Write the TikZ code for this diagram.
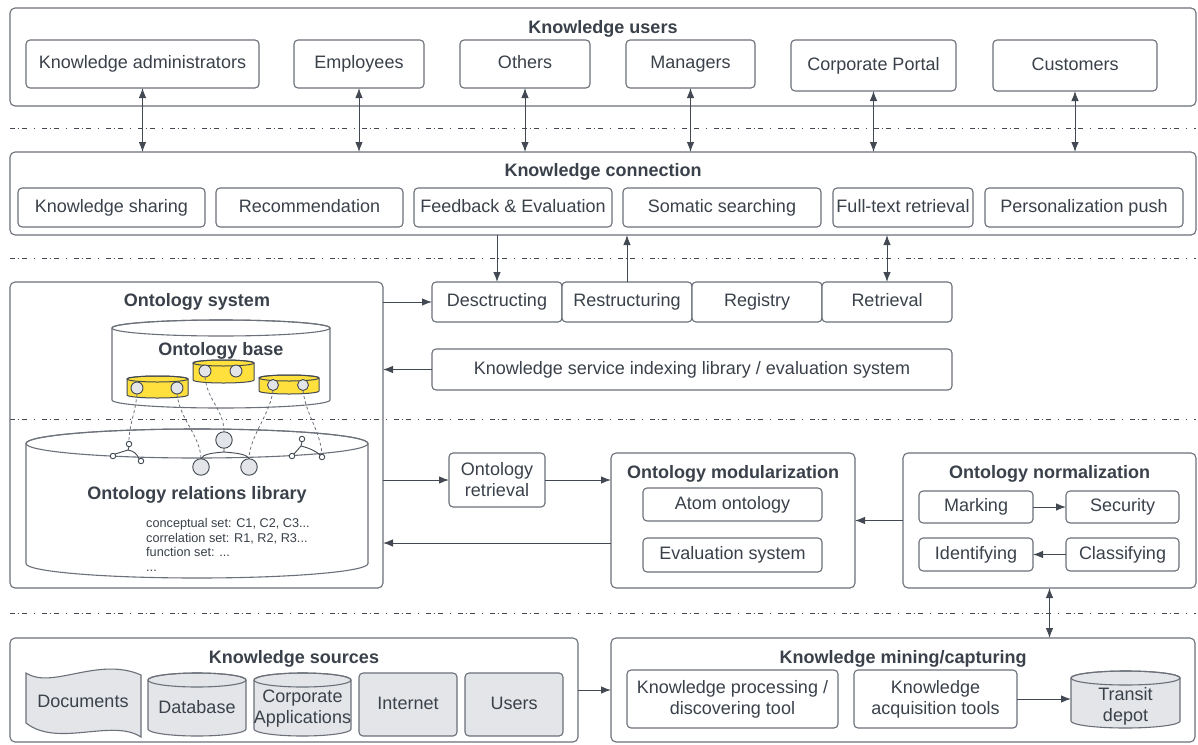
\documentclass[tikz,border=0pt]{standalone}
\usepackage{fontspec}
\setmainfont{Liberation Sans}
\usetikzlibrary{arrows.meta,calc}
\definecolor{txt}{HTML}{3A414A}
\definecolor{edge}{HTML}{6B7079}
\definecolor{ln}{HTML}{434952}
\definecolor{gfill}{HTML}{E3E5E8}
\definecolor{yel}{HTML}{FFE03D}
\newcommand\myN{\fontsize{18}{21}\selectfont}
\newcommand\myB{\fontsize{18}{21}\selectfont\bfseries}
\newcommand\myS{\fontsize{12.7}{15}\selectfont}
\tikzset{
  box/.style={draw=edge, fill=white, line width=1.1pt, rounded corners=4pt, inner sep=0pt, outer sep=0pt, text=txt, font=\myN, align=center, text height=12.6pt, text depth=3.6pt},
  multi/.style={text height=, text depth=},
  outer/.style={fill=none, rounded corners=5pt},
  gbox/.style={fill=gfill},
  ttl/.style={inner sep=0pt, text=txt, font=\myB, text height=12.6pt, text depth=3.6pt, yshift=-1.5pt},
  smalltxt/.style={inner sep=0pt, text=txt, font=\myS, anchor=base west},
  arr/.style={draw=ln, line width=1pt, -{Latex[length=10pt,width=7.5pt]}},
  dbl/.style={draw=ln, line width=1pt, {Latex[length=10pt,width=7.5pt]}-{Latex[length=10pt,width=7.5pt]}},
  sepl/.style={draw=ln, line width=0.9pt, dash pattern=on 5pt off 3pt on 1pt off 3pt on 5pt off 7pt on 1pt off 7pt},
  dsh/.style={draw=edge, line width=0.8pt, dash pattern=on 3pt off 2.5pt},
  gc/.style={circle, draw=ln, fill=gfill, line width=0.9pt, inner sep=0pt, outer sep=0pt},
  trl/.style={draw=ln, line width=0.9pt},
  cylw/.style={draw=edge, fill=white, line width=1.1pt},
  cylg/.style={draw=edge, fill=gfill, line width=1.1pt},
  cyly/.style={draw=ln, fill=yel, line width=1pt},
}
% box: [opts]{name}{x1}{y1}{x2}{y2}{text}
\newcommand\bx[7][]{\node[box,#1,minimum width={(#5)-(#3)},minimum height={(#6)-(#4)}] (#2) at ({((#3)+(#5))/2},{((#4)+(#6))/2}) {#7};}
% cylinder: {x1}{ytop}{x2}{ybot}{ry}{style}
\newcommand\mycyl[6]{%
  \pgfmathsetmacro\cxx{(#1+#3)/2}%
  \pgfmathsetmacro\rxx{(#3-#1)/2}%
  \filldraw[#6] (#1,#2+#5) -- (#1,#4-#5) arc[start angle=180,end angle=0,x radius=\rxx,y radius=#5] -- (#3,#2+#5) arc[start angle=0,end angle=-180,x radius=\rxx,y radius=#5] -- cycle;
  \draw[#6,fill=none] (\cxx,#2+#5) ellipse[x radius=\rxx, y radius=#5];
}
\begin{document}
\begin{tikzpicture}[x=1pt,y=-1pt]
\useasboundingbox (0,0) rectangle (1198,744);
\fill[white] (0,0) rectangle (1198,744);

% separators
\foreach \yy in {128,258,419,613} \draw[sepl] (10,\yy) -- (1196,\yy);

% ---------- Knowledge users
\bx[outer]{users}{10}{8}{1196}{106}{}
\node[ttl] (usersT) at (603,27) {Knowledge users};
\bx{ka}{26}{40}{259}{88}{Knowledge administrators}
\bx{emp}{294}{40}{424}{88}{Employees}
\bx{oth}{460}{40}{590}{88}{Others}
\bx{mgr}{626}{40}{755}{88}{Managers}
\bx{cp}{791}{40}{956}{91}{Corporate Portal}
\bx{cus}{993}{40}{1157}{91}{Customers}

% ---------- Knowledge connection
\bx[outer]{conn}{10}{152}{1196}{235}{}
\node[ttl] (connT) at (603,170) {Knowledge connection};
\bx{ks}{18}{188}{205}{227}{Knowledge sharing}
\bx{rec}{216}{188}{403}{227}{Recommendation}
\bx{fe}{414}{188}{612}{227}{Feedback \& Evaluation}
\bx{ss}{623}{188}{821}{227}{Somatic searching}
\bx{ft}{833}{188}{973}{227}{Full-text retrieval}
\bx{pp}{985}{188}{1183}{227}{Personalization push}

\foreach \n in {ka,emp,oth,mgr,cp,cus} \draw[dbl] (\n.south) -- (\n.south |- conn.north);

% ---------- middle services
\bx{desc}{432}{282}{562}{322}{Desctructing}
\bx{restr}{562}{282}{692}{322}{Restructuring}
\bx{reg}{692}{282}{822}{322}{Registry}
\bx{retr}{822}{282}{952}{322}{Retrieval}
\bx{idx}{432}{349}{952}{390}{Knowledge service indexing library / evaluation system}

\draw[arr] (desc.north |- conn.south) -- (desc.north);
\draw[arr] (restr.north) -- (restr.north |- conn.south);
\draw[dbl] (retr.north |- conn.south) -- (retr.north);

% ---------- Ontology system
\bx[outer]{osys}{10}{282}{383}{588}{}
\node[ttl] (osysT) at (197,300) {Ontology system};

% relations library
\mycyl{26}{429}{368}{578}{14.5}{cylw}
\node[ttl] (libT) at (197,493) {Ontology relations library};
\node[smalltxt] (l1) at (146,527) {conceptual set: C1, C2, C3...};
\node[smalltxt] (l2) at (146,542) {correlation set: R1, R2, R3...};
\node[smalltxt] (l3) at (146,556.5) {function set: ...};
\node[smalltxt] (l4) at (146,571) {...};

% ontology base
\mycyl{112}{320}{330}{408}{8}{cylw}
\node[ttl] (baseT) at (221,349) {Ontology base};

% yellow cylinders
\mycyl{127}{376}{188}{398}{3}{cyly}
\mycyl{193}{360}{254}{383}{3}{cyly}
\mycyl{259}{375}{319}{394}{3}{cyly}
\node[gc, minimum size=12] (y1a) at (137,388) {};
\node[gc, minimum size=12] (y1b) at (177,388) {};
\node[gc, minimum size=12] (y2a) at (205,371) {};
\node[gc, minimum size=12] (y2b) at (236,371) {};
\node[gc, minimum size=11] (y3a) at (273,385) {};
\node[gc, minimum size=11] (y3b) at (303,385) {};

% trees
\node[gc, minimum size=5.5, fill=white] (lt) at (129,444) {};
\node[gc, minimum size=5.5, fill=white] (lt1) at (113,456) {};
\node[gc, minimum size=5.5, fill=white] (lt2) at (141,461) {};
\draw[trl] (lt.south) -- (128,450) -- (lt1.north east);
\draw[trl] (128,450) .. controls (134,451) and (137,454) .. (lt2.north west);

\node[gc, minimum size=16.5] (mt) at (224,440) {};
\node[gc, minimum size=16.5] (mt1) at (201,467) {};
\node[gc, minimum size=16.5] (mt2) at (249,467) {};
\draw[trl] (mt.south) -- (224,452) .. controls (212,453) and (203,454) .. (mt1.north);
\draw[trl] (224,452) .. controls (236,453) and (247,454) .. (mt2.north);

\node[gc, minimum size=5.5, fill=white] (rt) at (302,439) {};
\node[gc, minimum size=5.5, fill=white] (rt1) at (292,456) {};
\node[gc, minimum size=5.5, fill=white] (rt2) at (322,457) {};
\draw[trl] (rt.south) -- (301,446) -- (rt1.north east);
\draw[trl] (301,446) .. controls (309,448) and (316,451) .. (rt2.north west);

% dashed links
\draw[dsh] (y1a.south) .. controls (135,415) and (129,425) .. (lt.north);
\draw[dsh] (y1b.south) .. controls (180,420) and (200,435) .. (mt1.north);
\draw[dsh] (y2a.south) .. controls (207,400) and (224,410) .. (mt.north);
\draw[dsh] (y3a.south) .. controls (270,415) and (250,435) .. (mt2.north);
\draw[dsh] (y3b.south) .. controls (306,415) and (320,430) .. (rt2.north);

% arrows around ontology system
\draw[arr] (osys.east |- desc.west) -- (desc.west);
\draw[arr] (idx.west) -- (idx.west -| osys.east);

% ---------- Ontology retrieval / modularization / normalization
\bx[multi]{ortr}{449}{453}{545}{507}{Ontology\\retrieval}
\bx[outer]{omod}{611}{453}{855}{588}{}
\node[ttl] (omodT) at (733,472) {Ontology modularization};
\bx{atom}{643}{488}{822}{521}{Atom ontology}
\bx{evs}{643}{538}{822}{572}{Evaluation system}

\bx[outer]{onorm}{903}{453}{1196}{588}{}
\node[ttl] (onormT) at (1049.5,472) {Ontology normalization};
\bx{mark}{919}{491}{1033}{523}{Marking}
\bx{sec}{1066}{491}{1179}{523}{Security}
\bx{idn}{919}{538}{1033}{571}{Identifying}
\bx{cls}{1066}{538}{1179}{571}{Classifying}

\draw[arr] (ortr.west -| osys.east) -- (ortr.west);
\draw[arr] (ortr.east) -- (ortr.east -| omod.west);
\coordinate (m1) at (611,543);
\draw[arr] (m1) -- (m1 -| osys.east);
\draw[arr] (onorm.west) -- (onorm.west -| omod.east);
\draw[arr] (mark.east) -- (sec.west);
\draw[arr] (cls.west) -- (idn.east);

% ---------- Knowledge sources
\bx[outer]{src}{10}{638}{578}{742}{}
\node[ttl] (srcT) at (294,657) {Knowledge sources};
\filldraw[cylg] (26,673) .. controls (52,690) and (98,656) .. (141,675) -- (141,737) .. controls (112,718) and (58,748) .. (26,723) -- cycle;
\node[text=txt, font=\myN, inner sep=0pt, text height=12.6pt, text depth=3.6pt] (docs) at (83,703) {Documents};
\mycyl{148}{673}{246}{736}{7}{cylg}
\bx[draw=none,fill=none,rounded corners=0pt]{db}{148}{684}{246}{734}{Database}
\mycyl{254}{673}{351}{736}{7}{cylg}
\bx[multi,draw=none,fill=none,rounded corners=0pt]{capp}{254}{685}{351}{733}{Corporate\\Applications}
\bx[gbox]{inet}{359}{673}{457}{736}{Internet}
\bx[gbox]{usr}{465}{673}{563}{736}{Users}

% ---------- Knowledge mining
\bx[outer]{mine}{611}{638}{1195}{742}{}
\node[ttl] (mineT) at (903,657) {Knowledge mining/capturing};
\bx[multi]{kpd}{627}{670}{838}{728}{Knowledge processing /\\discovering tool}
\bx[multi]{acq}{854}{670}{1017}{728}{Knowledge\\acquisition tools}
\mycyl{1071}{671}{1180}{728}{7}{cylg}
\bx[multi,draw=none,fill=none,rounded corners=0pt]{transit}{1071}{682}{1180}{731}{Transit\\depot}

\draw[arr] (src.east) -- (src.east -| mine.west);
\draw[arr] (acq.east) -- (acq.east -| transit.west);
\draw[dbl] (onorm.south) -- (onorm.south |- mine.north);
\end{tikzpicture}
\end{document}
